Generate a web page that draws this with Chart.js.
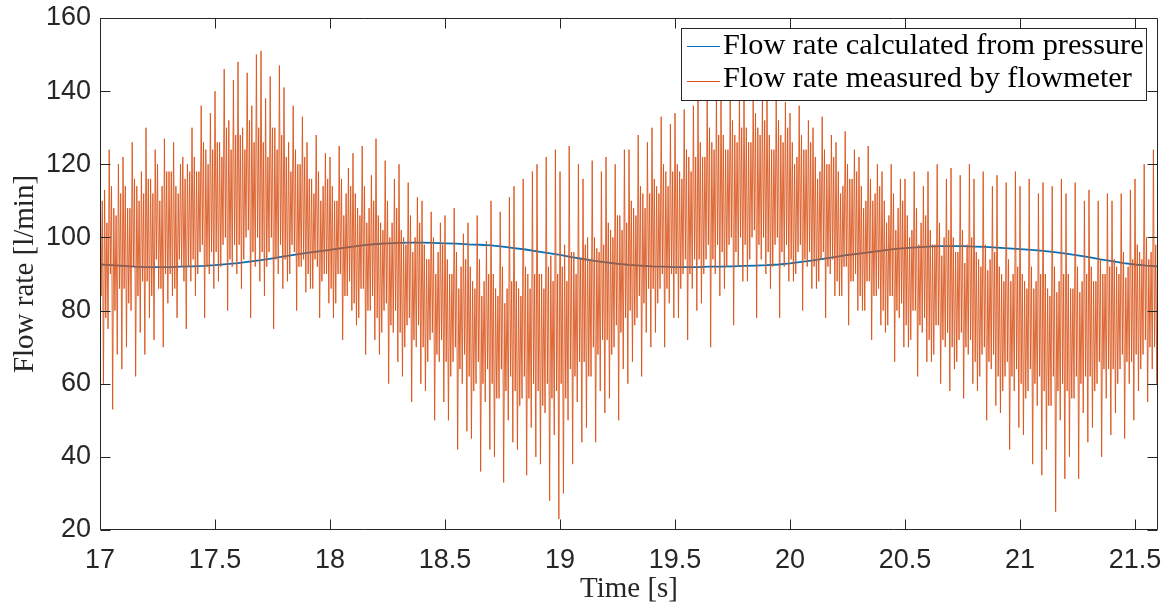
<!DOCTYPE html>
<html><head><meta charset="utf-8">
<script src="https://cdn.jsdelivr.net/npm/chart.js@4.4.1/dist/chart.umd.min.js"></script>
<style>
html,body{margin:0;padding:0;background:#fff;}
#wrap{position:relative;width:1165px;height:607px;}
#legend{position:absolute;left:681px;top:28px;width:466px;height:73px;box-sizing:border-box;border:1px solid rgb(38,38,38);background:#fff;}
.row{position:absolute;left:41px;font-family:'Liberation Serif',serif;font-size:30.3px;line-height:34px;color:#000;white-space:nowrap;}
.swatch{position:absolute;left:5px;width:33px;height:1px;}
</style></head>
<body><div id="wrap"><canvas id="c" width="1165" height="607"></canvas>
<div id="legend">
 <div class="swatch" style="top:17px;background:rgb(0,114,189)"></div>
 <div class="row" style="top:-2px">Flow rate calculated from pressure</div>
 <div class="swatch" style="top:52px;background:rgb(217,83,25)"></div>
 <div class="row" style="top:31px">Flow rate measured by flowmeter</div>
</div></div>
<script>
// ---- data ----
const seriesNames = ["Flow rate calculated from pressure", "Flow rate measured by flowmeter"];
const xTicks = [17, 17.5, 18, 18.5, 19, 19.5, 20, 20.5, 21, 21.5];
const yTicks = [20, 40, 60, 80, 100, 120, 140, 160];
const xMin = 17, xMax = 21.6, yMin = 20, yMax = 160;

// calculated flow, sampled every 0.05 s from 17.00 s
const calcT0 = 17.0, calcDt = 0.05;
const calcFlow = [
 92.6, 92.4, 92.2, 92.0, 91.9, 91.9, 91.9, 92.0, 92.1, 92.2,
 92.4, 92.7, 93.0, 93.4, 93.8, 94.3, 94.8, 95.3, 95.8, 96.2,
 96.6, 97.1, 97.5, 97.9, 98.2, 98.4, 98.5, 98.6, 98.6, 98.5,
 98.4, 98.3, 98.1, 98.0, 97.8, 97.5, 97.1, 96.7, 96.2, 95.7,
 95.2, 94.6, 94.1, 93.6, 93.2, 92.8, 92.5, 92.3, 92.1, 92.0,
 91.9, 91.9, 91.9, 92.0, 92.0, 92.1, 92.2, 92.3, 92.4, 92.6,
 92.9, 93.3, 93.7, 94.2, 94.7, 95.2, 95.6, 96.0, 96.4, 96.8,
 97.1, 97.3, 97.5, 97.6, 97.6, 97.6, 97.5, 97.4, 97.2, 97.0,
 96.8, 96.6, 96.3, 96.0, 95.6, 95.1, 94.6, 94.0, 93.5, 93.0,
 92.6, 92.3, 92.1
];

// measured flow, sampled every 0.005 s from 17.000 s (one row = 0.1 s)
const measT0 = 17.0, measDt = 0.005;
const measFlow = [
 128,84,110,60, 113,78,104,75, 124,90,114,53, 108,80,106,68, 120,86,112,64,
 122,86,114,70, 108,82,108,80, 126,92,116,62, 114,84,110,74, 118,88,112,68,
 130,88,116,78, 116,84,112,72, 124,94,120,86, 110,86,114,70, 127,90,118,82,
 118,90,118,84, 126,86,114,78, 112,94,120,92, 122,88,116,75, 120,92,118,88,
 130,94,122,84, 118,90,118,96, 136,98,126,78, 124,92,120,90, 134,96,124,86,
 140,96,126,88, 126,92,122,98, 146,100,130,80, 132,94,124,92, 143,98,128,90,
 148,98,128,86, 130,94,124,100, 145,102,132,78, 136,96,126,92, 150,100,130,88,
 151,96,126,84, 138,92,122,96, 144,100,130,75, 130,94,124,90, 147,98,128,86,
 141,94,122,88, 126,90,118,98, 136,96,124,80, 120,92,120,92, 133,94,122,85,
 126,90,116,86, 116,86,112,94, 128,92,118,78, 110,88,114,90, 123,90,116,82,
 122,86,114,78, 110,82,110,90, 125,90,116,72, 106,84,112,84, 119,88,114,80,
 123,82,112,76, 108,78,106,86, 125,86,114,68, 104,80,108,80, 117,84,110,72,
 127,78,106,68, 104,74,102,80, 121,82,110,60, 100,76,104,74, 116,80,108,66,
 120,74,102,62, 100,70,98,76, 115,78,106,55, 96,72,100,70, 111,76,104,60,
 110,70,98,58, 94,66,94,72, 107,74,100,50, 90,68,96,66, 104,72,98,55,
 106,66,94,50, 90,62,90,66, 108,70,96,42, 86,64,92,60, 101,68,94,47,
 104,62,92,45, 88,58,86,60, 106,66,94,36, 84,60,88,55, 99,64,90,42,
 110,60,90,40, 86,56,84,56, 107,64,92,33, 82,58,86,50, 111,62,88,44,
 114,58,88,42, 86,54,84,56, 116,62,92,35, 90,56,86,48, 118,60,90,40,
 120,58,90,38, 90,54,86,52, 122,60,92,28, 95,56,88,46, 124,58,90,23,
 118,60,92,30, 98,56,88,50, 125,64,96,38, 96,62,90,55, 120,66,94,44,
 116,66,98,48, 100,62,94,62, 121,70,100,44, 97,68,96,58, 118,72,98,52,
 122,72,104,56, 102,68,100,70, 120,76,106,50, 106,74,102,64, 124,78,104,60,
 124,80,110,66, 108,76,106,78, 128,84,114,62, 112,82,108,74, 126,86,112,70,
 130,86,116,74, 114,82,112,86, 133,90,120,70, 118,86,114,82, 131,90,118,78,
 134,90,120,78, 118,86,116,90, 135,94,124,72, 122,90,118,86, 136,94,122,80,
 138,94,126,82, 122,90,122,94, 138,98,130,70, 126,94,124,90, 139,98,128,84,
 139,96,128,86, 124,92,124,98, 138,100,132,76, 128,96,126,92, 139,100,130,88,
 138,98,130,88, 126,94,126,100, 139,102,134,78, 130,98,128,94, 138,100,132,90,
 139,96,128,86, 124,92,124,98, 138,100,132,78, 128,96,126,92, 137,98,130,88,
 134,94,126,88, 120,90,122,96, 136,98,128,80, 124,94,124,92, 132,96,126,86,
 130,92,122,86, 116,88,118,94, 133,96,124,78, 120,92,120,90, 128,94,122,84,
 126,88,118,84, 112,84,114,92, 129,92,120,76, 116,88,116,88, 124,90,118,80,
 122,84,114,80, 108,80,110,88, 125,88,116,72, 110,84,112,84, 120,86,114,76,
 118,80,110,74, 104,76,106,84, 120,84,112,66, 102,80,108,78, 116,82,110,70,
 116,76,106,70, 100,72,102,80, 118,80,108,62, 98,76,104,74, 114,78,106,66,
 118,72,102,66, 98,68,98,76, 120,76,104,60, 95,72,100,70, 116,74,102,58,
 119,70,100,64, 96,66,96,72, 117,74,102,56, 93,70,98,68, 120,72,100,60,
 116,66,96,58, 94,62,92,68, 118,70,98,50, 91,66,94,64, 114,68,96,54,
 117,62,92,52, 90,58,88,62, 115,66,94,42, 88,62,90,58, 118,64,92,48,
 114,60,90,46, 88,56,86,58, 116,64,92,38, 86,60,88,54, 112,62,90,35,
 115,58,90,42, 86,54,84,54, 114,62,92,25, 85,58,88,50, 116,60,90,34,
 112,58,90,40, 86,56,86,56, 115,62,92,34, 85,60,88,52, 110,62,90,44,
 113,62,92,48, 88,58,88,60, 110,66,94,40, 90,64,90,56, 112,64,92,46,
 110,64,94,52, 92,60,90,64, 112,68,96,45, 89,66,92,60, 113,66,94,50,
 116,68,98,58, 96,64,94,68, 120,72,100,55, 94,70,96,64, 124,70,98,60,
 118
];

// ---- build datasets ----
const calcPts = calcFlow.map((v, i) => ({x: +(calcT0 + i * calcDt).toFixed(3), y: v}));
const measPts = measFlow.map((v, i) => ({x: +(measT0 + i * measDt).toFixed(3), y: v}));

const AX = 'rgb(38,38,38)';
const boxPlugin = {
  id: 'matlabBox',
  afterDatasetsDraw(chart) {
    const {ctx, chartArea: a, scales: {x, y}} = chart;
    ctx.save();
    ctx.strokeStyle = AX; ctx.lineWidth = 1;
    const L = Math.round(a.left) + 0.5, R = Math.round(a.right) - 0.5;
    const T = Math.round(a.top) + 0.5, B = Math.round(a.bottom) - 0.5;
    ctx.beginPath();
    ctx.rect(L, T, R - L, B - T);
    const tl = 10;
    xTicks.forEach(v => {
      const px = Math.round(x.getPixelForValue(v)) + 0.5;
      ctx.moveTo(px, B); ctx.lineTo(px, B - tl);
      ctx.moveTo(px, T); ctx.lineTo(px, T + tl);
    });
    yTicks.forEach(v => {
      const py = Math.round(y.getPixelForValue(v)) + 0.5;
      ctx.moveTo(L, py); ctx.lineTo(L + tl, py);
      ctx.moveTo(R, py); ctx.lineTo(R - tl, py);
    });
    ctx.stroke();
    ctx.restore();
  }
};

const tickFont = {family: "'Liberation Sans', Arial, sans-serif", size: 27};
const fmt = v => String(Math.round(v * 100) / 100);

new Chart(document.getElementById('c'), {
  type: 'line',
  data: {
    datasets: [
      {label: seriesNames[0], data: calcPts, borderColor: 'rgb(0,114,189)', borderWidth: 1.8, pointRadius: 0, tension: 0, order: 2},
      {label: seriesNames[1], data: measPts, borderColor: 'rgba(217,83,25,0.88)', borderWidth: 1, pointRadius: 0, tension: 0, order: 1}
    ]
  },
  options: {
    responsive: false, animation: false, devicePixelRatio: 1,
    layout: {padding: {left: 0, right: 7, top: 18, bottom: 0}},
    plugins: {legend: {display: false}, tooltip: {enabled: false}},
    scales: {
      x: {
        type: 'linear', min: xMin, max: xMax,
        afterBuildTicks: s => { s.ticks = xTicks.map(v => ({value: v})); },
        afterFit: s => { s.height = 77; s.paddingLeft = 0; s.paddingRight = 0; },
        grid: {display: false, drawTicks: false},
        border: {display: false},
        ticks: {color: AX, font: tickFont, padding: 14, maxRotation: 0, autoSkip: false, callback: fmt},
        title: {display: true, text: 'Time [s]', color: AX, font: {family: "'Liberation Serif', serif", size: 29}, padding: {top: 0, bottom: 0}}
      },
      y: {
        type: 'linear', min: yMin, max: yMax,
        afterBuildTicks: s => { s.ticks = yTicks.map(v => ({value: v})); },
        afterFit: s => { s.width = 100; s.paddingTop = 0; s.paddingBottom = 0; },
        grid: {display: false, drawTicks: false},
        border: {display: false},
        ticks: {color: AX, font: tickFont, padding: 9, autoSkip: false, callback: fmt},
        title: {display: true, text: 'Flow rate [l/min]', color: AX, font: {family: "'Liberation Serif', serif", size: 29}, padding: {top: 8, bottom: 0}}
      }
    }
  },
  plugins: [boxPlugin]
});
</script>
</body></html>
